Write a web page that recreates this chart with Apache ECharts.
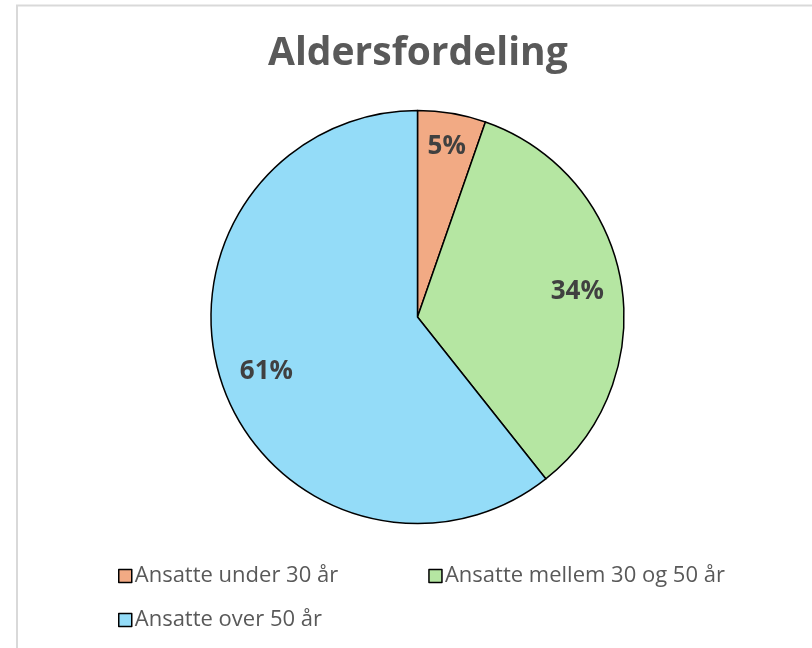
<!DOCTYPE html>
<html><head><meta charset="utf-8">
<script src="https://cdn.jsdelivr.net/npm/echarts@6/dist/echarts.min.js"></script>
<style>html,body{margin:0;padding:0;background:#fff;}#c{width:812px;height:648px;}</style>
</head><body><div id="c"></div>
<script>
const title = 'Aldersfordeling';
const categories = ['Ansatte under 30 år', 'Ansatte mellem 30 og 50 år', 'Ansatte over 50 år'];
const values = [8, 51, 91];
const colors = ['#F2AA84', '#B5E6A2', '#94DCF8'];

const CX = 417.5, CY = 317, R = 206.5;
const labelRadius = [175, 162, 160];

const chart = echarts.init(document.getElementById('c'), null, {renderer: 'canvas'});
const legendCommon = {
  orient: 'horizontal', itemWidth: 13, itemHeight: 13, itemGap: 90,
  icon: 'rect',
  textStyle: {fontFamily: 'Open Sans', fontSize: 22, color: '#595959', padding: [0, 0, 0, -2]},
  itemStyle: {borderColor: '#000', borderWidth: 1.5}
};
chart.setOption({
  animation: false,
  graphic: [{type: 'rect', shape: {x: 17, y: 5.5, width: 900, height: 700}, style: {fill: 'none', stroke: '#d9d9d9', lineWidth: 2}, silent: true}],
  title: {text: title, left: 263, top: 29, textStyle: {fontFamily: 'Open Sans', fontWeight: 'bold', fontSize: 39, color: '#595959'}},
  legend: [
    Object.assign({}, legendCommon, {data: categories.slice(0, 2), left: 113, top: 560}),
    Object.assign({}, legendCommon, {data: categories.slice(2), left: 113, top: 604})
  ],
  series: [{
    type: 'pie',
    center: [CX, CY], radius: [0, R],
    startAngle: 90, clockwise: true,
    data: categories.map((n, i) => ({name: n, value: values[i], itemStyle: {color: colors[i]}})),
    itemStyle: {borderColor: '#000', borderWidth: 1.5},
    label: {show: true, position: 'inside', formatter: p => Math.round(p.percent) + '%',
      fontFamily: 'Open Sans', fontWeight: 'bold', fontSize: 26, color: '#404040'},
    labelLine: {show: false},
    labelLayout: function (p) {
      const r = p.labelRect;
      const lx = r.x + r.width / 2, ly = r.y + r.height / 2;
      const dx = lx - CX, dy = ly - CY, d = Math.hypot(dx, dy) || 1;
      const t = labelRadius[p.dataIndex];
      return {x: CX + dx / d * t, y: CY + dy / d * t + 2};
    },
    emphasis: {disabled: true}
  }]
});
</script></body></html>
